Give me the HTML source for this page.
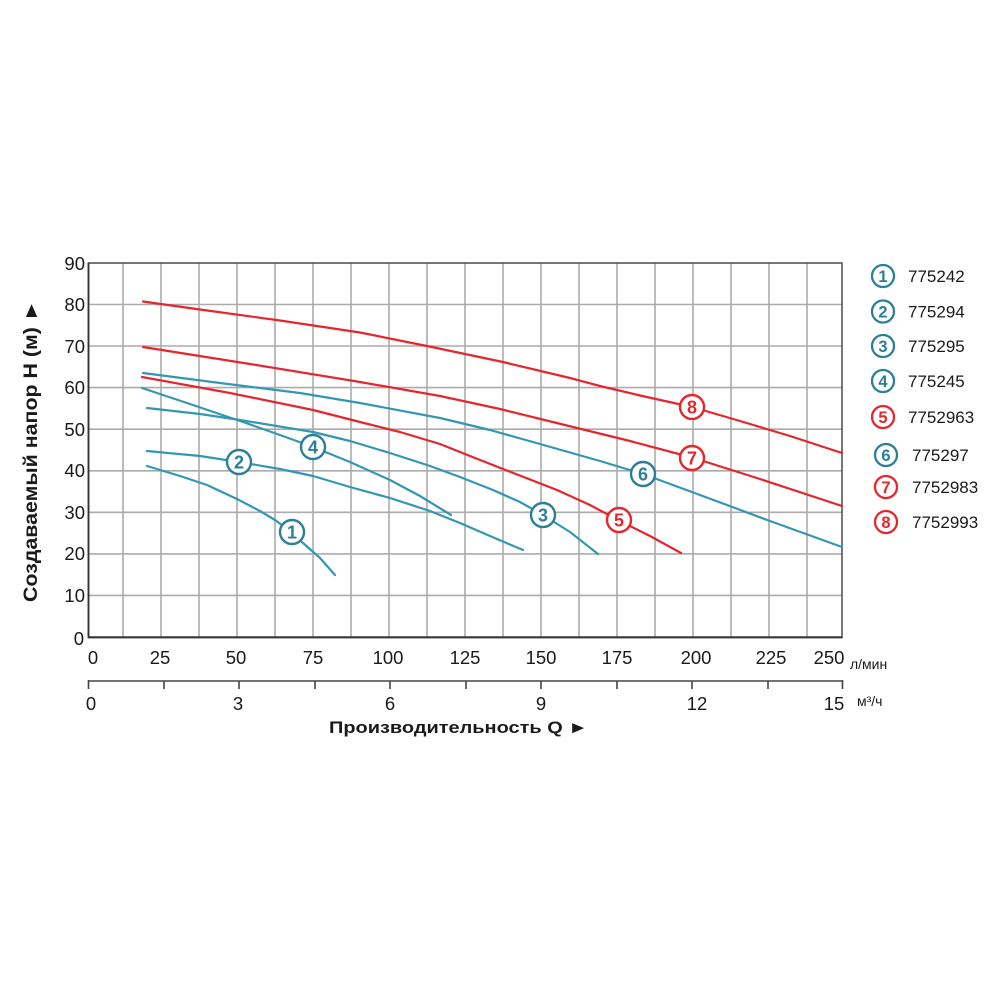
<!DOCTYPE html>
<html>
<head>
<meta charset="utf-8">
<style>
html,body{margin:0;padding:0;background:#fff;}
svg{display:block;}
text{font-family:"Liberation Sans",sans-serif;}
</style>
</head>
<body>
<svg width="1000" height="1000" viewBox="0 0 1000 1000" xmlns="http://www.w3.org/2000/svg">
<rect width="1000" height="1000" fill="#fff"/>

<!-- grid -->
<g stroke="#ababab" stroke-width="1.6">
  <line x1="123" y1="263" x2="123" y2="637"/>
  <line x1="161" y1="263" x2="161" y2="637"/>
  <line x1="199" y1="263" x2="199" y2="637"/>
  <line x1="237" y1="263" x2="237" y2="637"/>
  <line x1="275" y1="263" x2="275" y2="637"/>
  <line x1="313" y1="263" x2="313" y2="637"/>
  <line x1="351" y1="263" x2="351" y2="637"/>
  <line x1="389" y1="263" x2="389" y2="637"/>
  <line x1="427" y1="263" x2="427" y2="637"/>
  <line x1="465" y1="263" x2="465" y2="637"/>
  <line x1="503" y1="263" x2="503" y2="637"/>
  <line x1="541" y1="263" x2="541" y2="637"/>
  <line x1="579" y1="263" x2="579" y2="637"/>
  <line x1="617" y1="263" x2="617" y2="637"/>
  <line x1="655" y1="263" x2="655" y2="637"/>
  <line x1="693" y1="263" x2="693" y2="637"/>
  <line x1="731" y1="263" x2="731" y2="637"/>
  <line x1="769" y1="263" x2="769" y2="637"/>
  <line x1="807" y1="263" x2="807" y2="637"/>
  <line x1="88" y1="304.5" x2="842" y2="304.5"/>
  <line x1="88" y1="346" x2="842" y2="346"/>
  <line x1="88" y1="387.6" x2="842" y2="387.6"/>
  <line x1="88" y1="429.2" x2="842" y2="429.2"/>
  <line x1="88" y1="470.8" x2="842" y2="470.8"/>
  <line x1="88" y1="512.3" x2="842" y2="512.3"/>
  <line x1="88" y1="553.9" x2="842" y2="553.9"/>
  <line x1="88" y1="595.4" x2="842" y2="595.4"/>
</g>
<rect x="88.5" y="263" width="753.5" height="374" fill="none" stroke="#555" stroke-width="1.6"/>
<line x1="88" y1="637.5" x2="842.5" y2="637.5" stroke="#333" stroke-width="1.8"/>
<line x1="88.5" y1="263" x2="88.5" y2="638" stroke="#333" stroke-width="1.8"/>

<!-- curves -->
<g fill="none" stroke-width="2.2" stroke-linejoin="round" stroke-linecap="round">
  <polyline stroke="#e5262d" points="143,301.5 200,309.5 280,320.5 360,332.5 427,346 503,362 570,378 600,386 640,395.5 692,407 740,421 790,436 842,453"/>
  <polyline stroke="#e5262d" points="143,347 250,364 360,382 440,396 500,409 573,427 630,441 692,457.5 760,479 842,506"/>
  <polyline stroke="#3497b2" points="143,373 220,383 300,393 360,403 440,418 490,430 540,444 600,461 643,474 700,495 770,521 842,547"/>
  <polyline stroke="#e5262d" points="142,377 230,393 313,410 360,422 400,432 440,444 470,456 503,469 557,490 590,505 618,520 650,536 681,553"/>
  <polyline stroke="#3497b2" points="142,388 190,404 243,422 280,435 313,447 350,462 390,480 420,496 451,515"/>
  <polyline stroke="#3497b2" points="147,408 200,414 240,420 313,432 350,441 390,453 430,466 460,477 493,490 520,502 543,515 570,532 598,554"/>
  <polyline stroke="#3497b2" points="147,451 200,456 239,462 280,469 313,476 350,487 390,498 430,511 460,523 490,536 523,550"/>
  <polyline stroke="#3497b2" points="147,466 180,476 207,485 237,499 260,511 275,520 290,531 303,543 320,558 335,575"/>
</g>

<!-- curve labels -->
<g stroke-width="2.4" fill="#fff">
  <circle cx="292" cy="532" r="12" stroke="#2b7f96"/>
  <circle cx="239" cy="462" r="12" stroke="#2b7f96"/>
  <circle cx="543" cy="515" r="12" stroke="#2b7f96"/>
  <circle cx="313" cy="447" r="12" stroke="#2b7f96"/>
  <circle cx="619" cy="520" r="12" stroke="#e5262d"/>
  <circle cx="643" cy="474" r="12" stroke="#2b7f96"/>
  <circle cx="692" cy="458" r="12" stroke="#e5262d"/>
  <circle cx="692" cy="407" r="12" stroke="#e5262d"/>
</g>
<g font-size="18" font-weight="bold" text-anchor="middle">
  <text x="292" y="538.5" fill="#2b7f96">1</text>
  <text x="239" y="468.5" fill="#2b7f96">2</text>
  <text x="543" y="521.5" fill="#2b7f96">3</text>
  <text x="313" y="453.5" fill="#2b7f96">4</text>
  <text x="619" y="526.5" fill="#e5262d">5</text>
  <text x="643" y="480.5" fill="#2b7f96">6</text>
  <text x="692" y="464.5" fill="#e5262d">7</text>
  <text x="692" y="413.5" fill="#e5262d">8</text>
</g>

<!-- y tick labels -->
<g font-size="18.5" fill="#1a1a1a" text-anchor="end">
  <text x="85" y="270">90</text>
  <text x="85" y="311">80</text>
  <text x="85" y="353">70</text>
  <text x="85" y="394">60</text>
  <text x="85" y="436">50</text>
  <text x="85" y="477">40</text>
  <text x="85" y="519">30</text>
  <text x="85" y="560">20</text>
  <text x="85" y="602">10</text>
  <text x="84" y="645">0</text>
</g>

<!-- x tick labels l/min -->
<g font-size="18.5" fill="#1a1a1a" text-anchor="middle">
  <text x="93" y="664">0</text>
  <text x="160" y="664">25</text>
  <text x="236" y="664">50</text>
  <text x="313" y="664">75</text>
  <text x="388" y="664">100</text>
  <text x="465" y="664">125</text>
  <text x="541" y="664">150</text>
  <text x="617" y="664">175</text>
  <text x="696" y="664">200</text>
  <text x="771" y="664">225</text>
  <text x="829" y="664">250</text>
</g>
<text x="850" y="669" font-size="14" fill="#1a1a1a">л/мин</text>

<!-- m3/h axis -->
<g stroke="#444" stroke-width="1.6">
  <line x1="88" y1="681" x2="843" y2="681"/>
  <line x1="88.5" y1="680" x2="88.5" y2="689"/>
  <line x1="164" y1="681" x2="164" y2="689"/>
  <line x1="239" y1="681" x2="239" y2="689"/>
  <line x1="315" y1="681" x2="315" y2="689"/>
  <line x1="390" y1="681" x2="390" y2="689"/>
  <line x1="466" y1="681" x2="466" y2="689"/>
  <line x1="541" y1="681" x2="541" y2="689"/>
  <line x1="617" y1="681" x2="617" y2="689"/>
  <line x1="692" y1="681" x2="692" y2="689"/>
  <line x1="768" y1="681" x2="768" y2="689"/>
  <line x1="842.5" y1="680" x2="842.5" y2="689"/>
</g>
<g font-size="18.5" fill="#1a1a1a" text-anchor="middle">
  <text x="91" y="710">0</text>
  <text x="238" y="710">3</text>
  <text x="390" y="710">6</text>
  <text x="541" y="710">9</text>
  <text x="697" y="710">12</text>
  <text x="834" y="710">15</text>
</g>
<text x="857" y="706" font-size="14" fill="#1a1a1a">м³/ч</text>

<!-- axis titles -->
<text x="329" y="733" font-size="17" font-weight="bold" fill="#1a1a1a" textLength="259" lengthAdjust="spacingAndGlyphs">Производительность Q ►</text>
<text transform="translate(37,602) rotate(-90)" x="0" y="0" font-size="19" font-weight="bold" fill="#1a1a1a" textLength="302" lengthAdjust="spacingAndGlyphs">Создаваемый напор H (м) ►</text>

<!-- legend -->
<g stroke-width="2.3" fill="#fff">
  <circle cx="883" cy="276" r="11" stroke="#2b7f96"/>
  <circle cx="883" cy="311.5" r="11" stroke="#2b7f96"/>
  <circle cx="883" cy="346" r="11" stroke="#2b7f96"/>
  <circle cx="883" cy="381" r="11" stroke="#2b7f96"/>
  <circle cx="883" cy="417" r="11" stroke="#e5262d"/>
  <circle cx="886" cy="455" r="11" stroke="#2b7f96"/>
  <circle cx="886" cy="487" r="11" stroke="#e5262d"/>
  <circle cx="886" cy="522" r="11" stroke="#e5262d"/>
</g>
<g font-size="16.5" font-weight="bold" text-anchor="middle">
  <text x="883" y="282" fill="#2b7f96">1</text>
  <text x="883" y="317.5" fill="#2b7f96">2</text>
  <text x="883" y="352" fill="#2b7f96">3</text>
  <text x="883" y="387" fill="#2b7f96">4</text>
  <text x="883" y="423" fill="#e5262d">5</text>
  <text x="886" y="461" fill="#2b7f96">6</text>
  <text x="886" y="493" fill="#e5262d">7</text>
  <text x="886" y="528" fill="#e5262d">8</text>
</g>
<g font-size="17" fill="#1a1a1a">
  <text x="908" y="282">775242</text>
  <text x="908" y="317.5">775294</text>
  <text x="908" y="352">775295</text>
  <text x="908" y="387">775245</text>
  <text x="908" y="423">7752963</text>
  <text x="912" y="461">775297</text>
  <text x="912" y="493">7752983</text>
  <text x="912" y="528">7752993</text>
</g>
</svg>
</body>
</html>
